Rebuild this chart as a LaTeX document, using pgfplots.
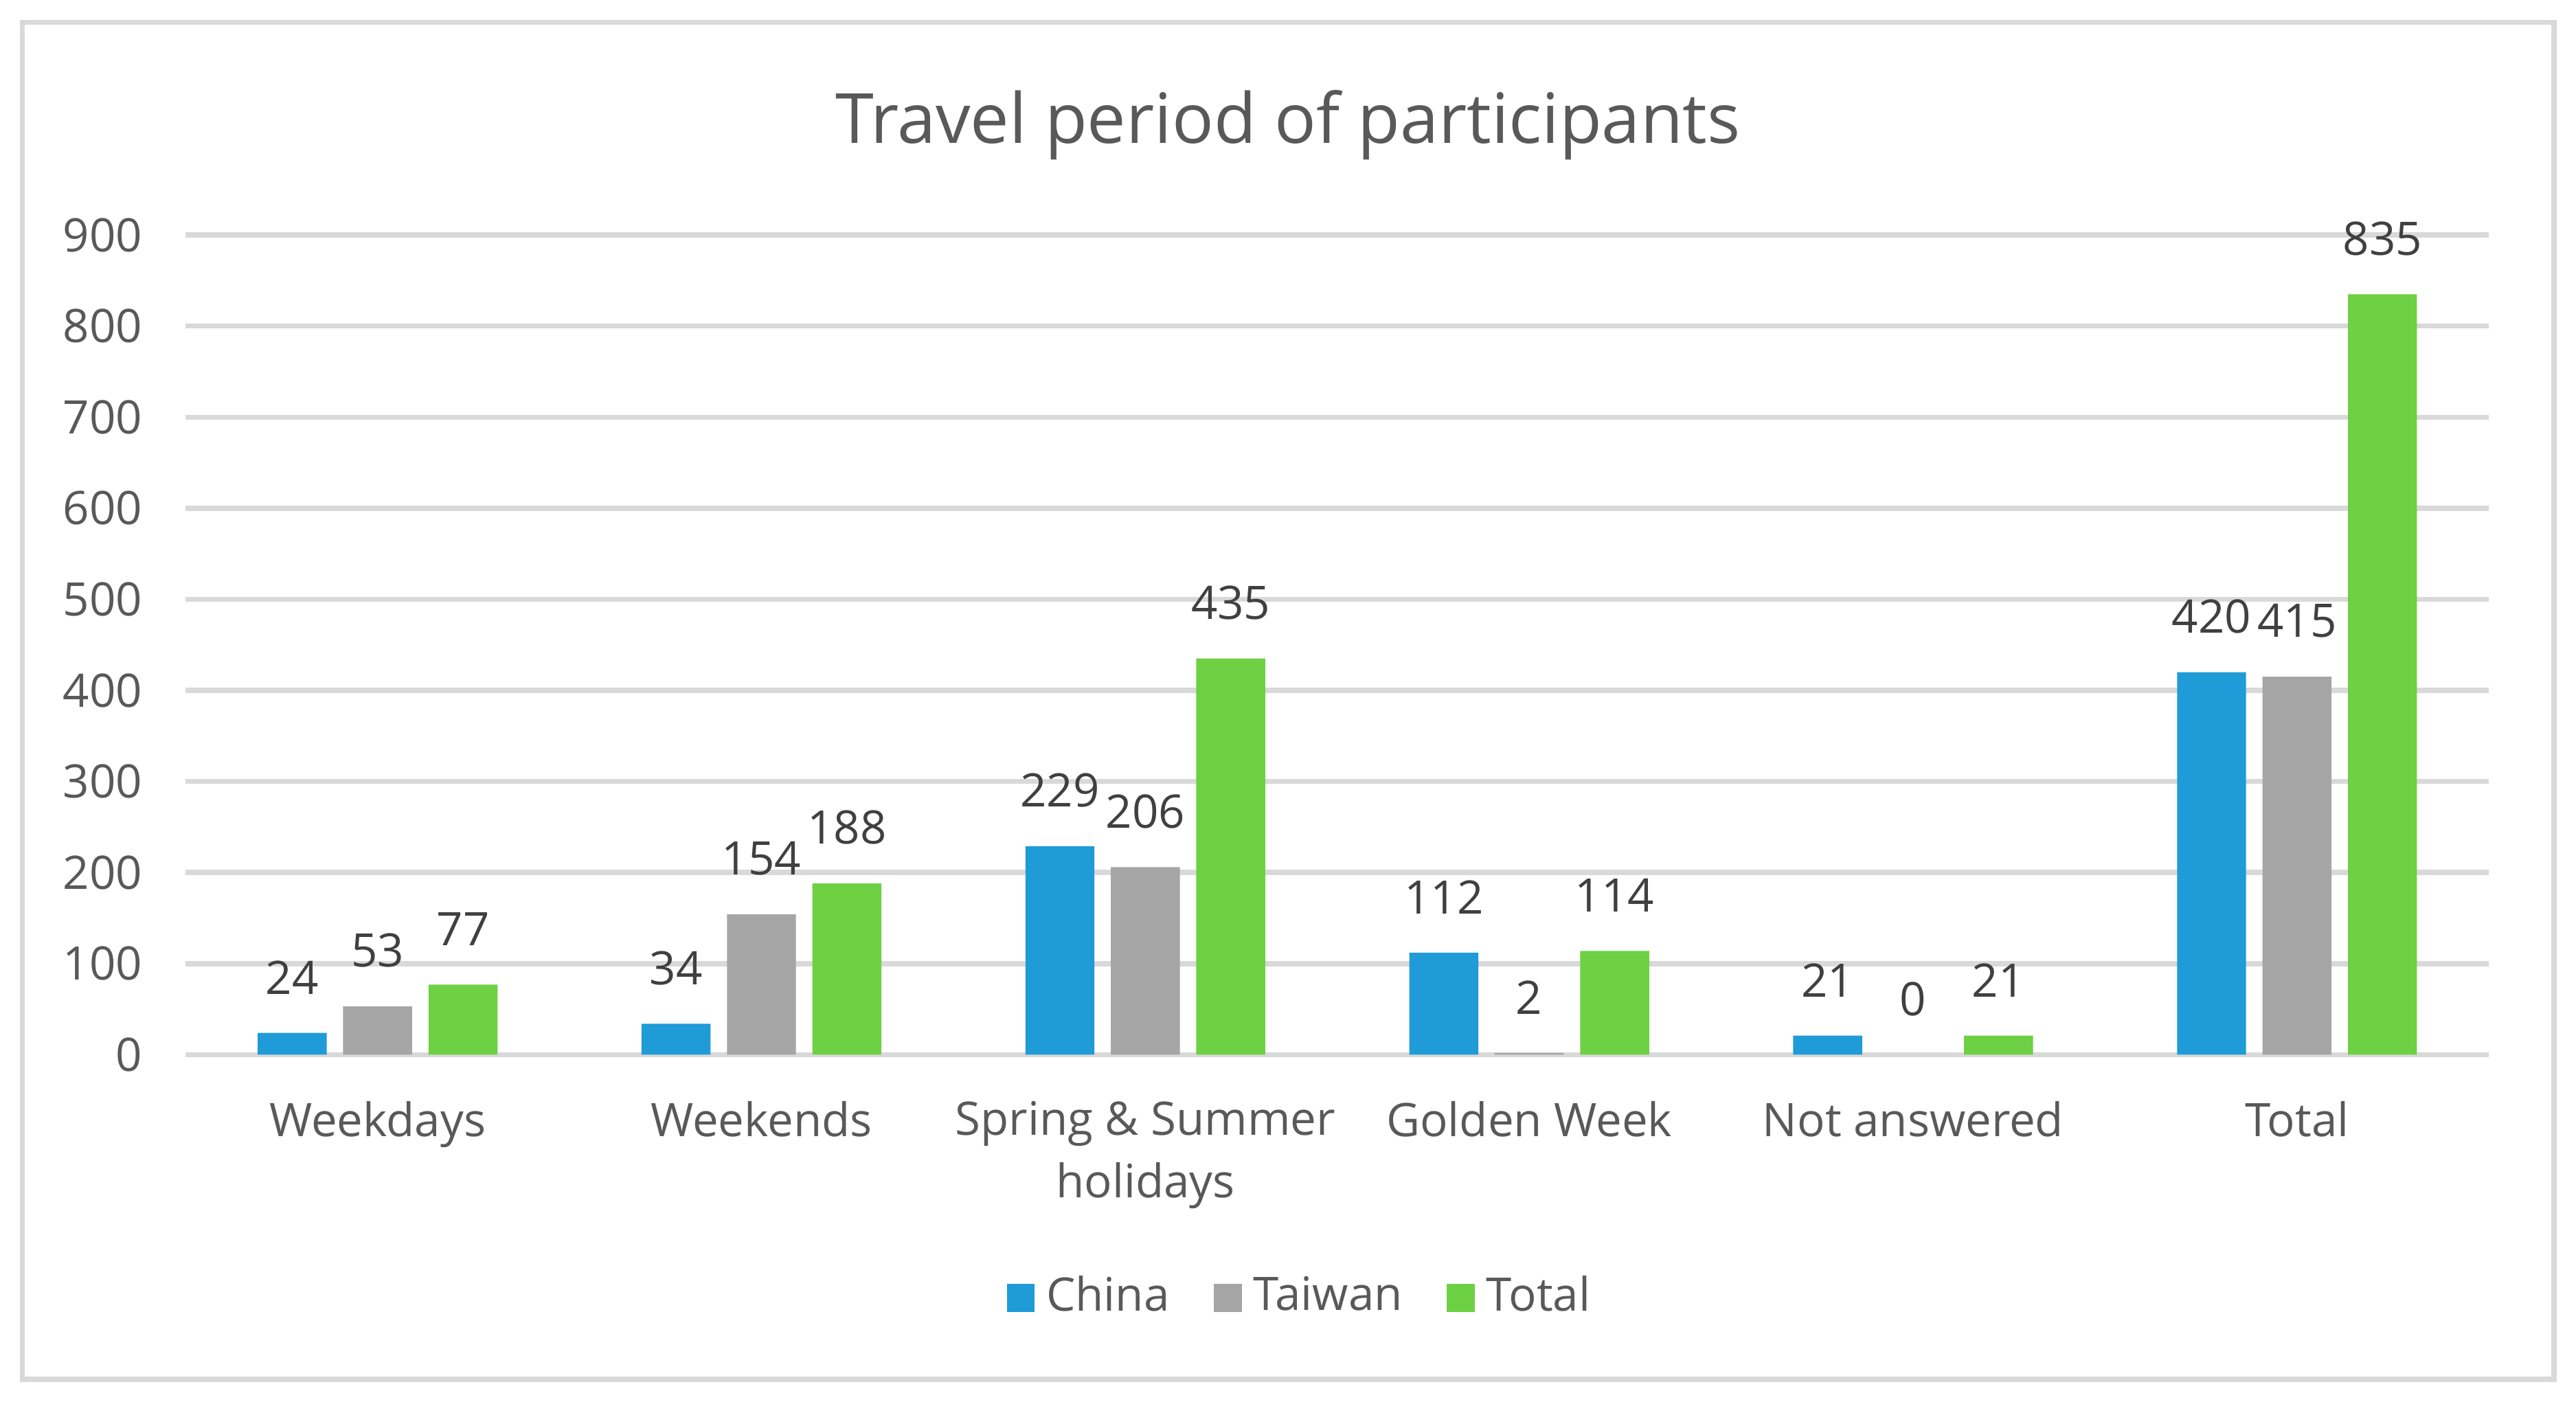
\documentclass[border=0pt]{standalone}
\usepackage{fontspec}
\setmainfont{Open Sans}
\usepackage{pgfplots}
\usepackage{pgfplotstable}
\pgfplotsset{compat=1.18}
\definecolor{cChina}{HTML}{1F9BD7}
\definecolor{cTaiwan}{HTML}{A5A5A5}
\definecolor{cTotal}{HTML}{6DD143}
\definecolor{gridc}{HTML}{D9D9D9}
\definecolor{txt}{HTML}{595959}
\definecolor{lbl}{HTML}{404040}

\pgfplotstableread{
x china taiwan total
0 24 53 77
1 34 154 188
2 229 206 435
3 112 2 114
4 21 0 21
5 420 415 835
}\datatable

\begin{document}
\begin{tikzpicture}
\fill[white] (0,0) rectangle (15.68cm,8.53cm);
\draw[gridc,line width=0.9pt] (0.135cm,0.135cm) rectangle (15.545cm,8.395cm);
\node[text=txt,font=\fontsize{12}{14}\selectfont] at (7.84cm,7.77cm) {Travel period of participants};
\begin{axis}[at={(1.13cm,2.11cm)},anchor=south west,scale only axis,width=14.02cm,height=4.99cm,
  ymin=0,ymax=900,xmin=-0.5,xmax=5.5,enlargelimits=false,
  ytick={0,100,...,900},xtick={0,...,5},
  xticklabels={Weekdays,Weekends,{Spring \& Summer\\holidays},Golden Week,Not answered,Total},
  ybar=0.1cm,bar width=0.42cm,
  axis line style={draw=none},major tick length=0pt,
  ymajorgrids,grid style={gridc,line width=0.9pt},
  /pgf/number format/assume math mode=true,
  tick label style={font=\fontsize{8}{10.8}\selectfont,text=txt},
  x tick label style={align=center,yshift=-4.5pt},
  y tick label style={xshift=-4pt},
  nodes near coords,
  every node near coord/.append style={font=\fontsize{8}{10}\selectfont,text=lbl,yshift=3.2pt},
  legend style={at={(0.4857,-0.2966)},anchor=center,draw=none,legend columns=-1,
    font=\fontsize{8}{10}\selectfont,text=txt,
    /tikz/every even column/.append style={column sep=0.2cm}},
  legend image code/.code={\fill[#1] (0cm,-0.085cm) rectangle (0.17cm,0.085cm);},
]
\addplot[fill=cChina,draw=none] table[x=x,y=china]{\datatable};
\addlegendentry{China}
\addplot[fill=cTaiwan,draw=none] table[x=x,y=taiwan]{\datatable};
\addlegendentry{Taiwan}
\addplot[fill=cTotal,draw=none] table[x=x,y=total]{\datatable};
\addlegendentry{Total}
\end{axis}
\end{tikzpicture}
\end{document}
